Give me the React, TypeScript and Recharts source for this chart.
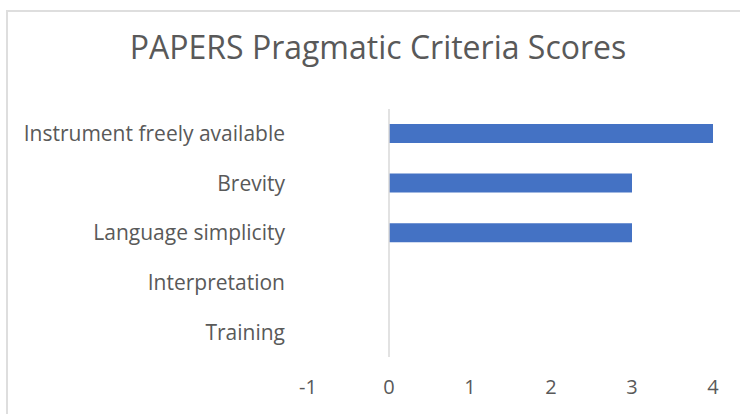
import { BarChart, Bar, XAxis, YAxis, ReferenceLine } from "recharts";

const categories = ["Instrument freely available", "Brevity", "Language simplicity", "Interpretation", "Training"];
const scores = [4, 3, 3, 0, 0];
const xTicks = [-1, 0, 1, 2, 3, 4];

const data = categories.map((name, i) => ({ name, score: scores[i] }));

const FONT = "'Open Sans', sans-serif";
const TEXT = "#595959";

export default function App() {
  return (
    <div style={{ position: "absolute", left: 0, top: 0, width: 740, height: 414, overflow: "hidden", background: "#fff", fontFamily: FONT }}>
      {/* chart frame: only left and top edges fall inside the picture */}
      <div
        style={{
          position: "absolute",
          left: 6,
          top: 10,
          width: 734,
          height: 404,
          borderLeft: "2px solid #dedede",
          borderTop: "2px solid #dedede",
          boxSizing: "border-box",
        }}
      />
      <div
        style={{
          position: "absolute",
          left: 0,
          width: 756,
          top: 27,
          textAlign: "center",
          fontSize: 32,
          color: TEXT,
          lineHeight: "40px",
        }}
      >
        PAPERS Pragmatic Criteria Scores
      </div>
      <div style={{ position: "absolute", left: 0, top: 0 }}>
        <BarChart
          width={740}
          height={414}
          data={data}
          layout="vertical"
          margin={{ top: 109, right: 27, bottom: 27, left: 0 }}
          barSize={19}
        >
          <XAxis
            type="number"
            domain={[-1, 4]}
            ticks={xTicks}
            axisLine={false}
            tickLine={false}
            tickMargin={17}
            height={30}
            tick={{ fill: TEXT, fontSize: 20, fontFamily: FONT }}
          />
          <YAxis
            type="category"
            dataKey="name"
            width={308}
            axisLine={false}
            tickLine={false}
            tickMargin={17}
            interval={0}
            tick={{ fill: TEXT, fontSize: 21, fontFamily: FONT }}
          />
          <ReferenceLine x={0} stroke="#d9d9d9" strokeWidth={1.5} />
          <Bar dataKey="score" fill="#4472C4" isAnimationActive={false} />
        </BarChart>
      </div>
    </div>
  );
}
